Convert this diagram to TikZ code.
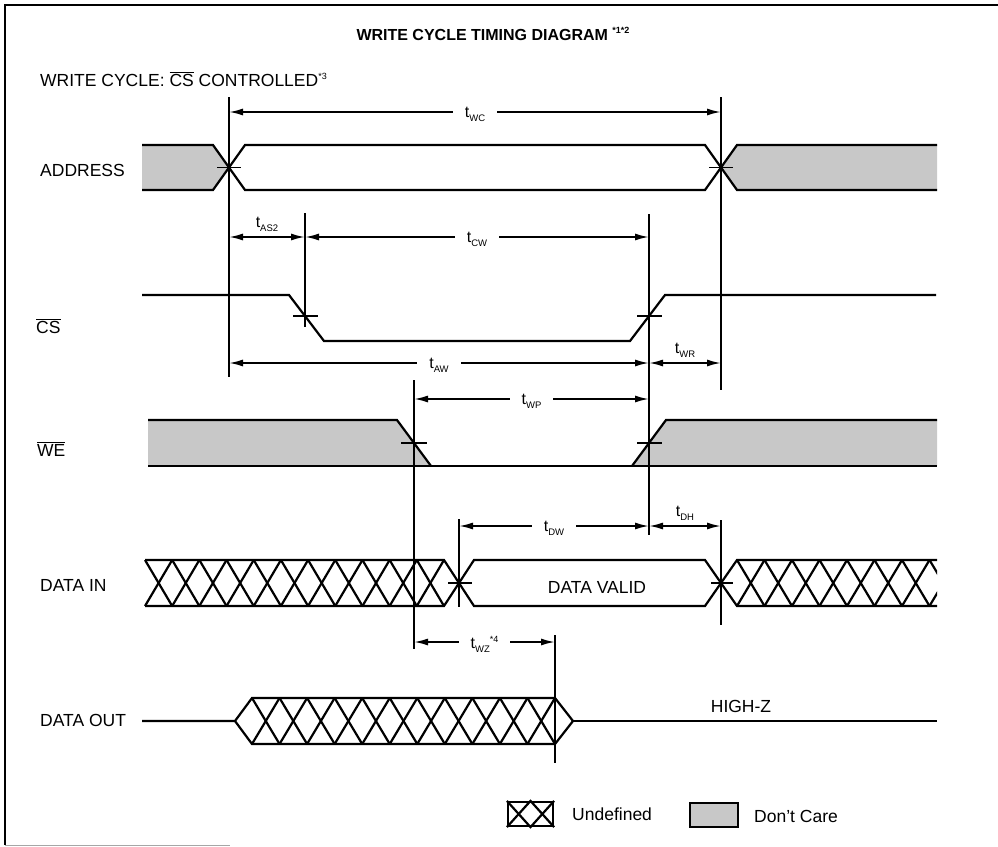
\documentclass[tikz,border=0pt]{standalone}
\usepackage{fontspec}
\setmainfont{Liberation Sans}
\usetikzlibrary{arrows.meta}
\definecolor{DCfill}{RGB}{200,200,200}
\newcommand{\tsub}[1]{t\raisebox{-0.45ex}{\fontsize{9.5}{10}\selectfont #1}}
\newcommand{\fnote}[1]{\raisebox{0.75ex}{\fontsize{9}{10}\selectfont #1}}

\begin{document}
\begin{tikzpicture}[x=1pt,y=-1pt,line join=miter,
  sig/.style={line width=2.2pt},
  vline/.style={line width=1.8pt},
  tickln/.style={line width=1.8pt},
  dim/.style={line width=1.8pt,{Latex[length=14pt,width=7pt]}-{Latex[length=14pt,width=7pt]}},
  lbl/.style={font=\fontsize{17.5}{20}\selectfont,anchor=base west,inner sep=0pt},
  txt/.style={font=\fontsize{17.5}{20}\selectfont,anchor=base,inner sep=0pt},
  tlbl/.style={font=\fontsize{16}{17}\selectfont,fill=white,inner xsep=12pt,inner ysep=2pt,yshift=-2pt},
  tlblup/.style={font=\fontsize{16}{17}\selectfont,inner sep=1pt}]
\path[use as bounding box] (0,0) rectangle (998,846);
% frame
\draw[line width=1.6pt] (998,5) -- (5,5) -- (5,845);
\draw[line width=1pt,black!35] (5,845) -- (230,845);

% headings and signal names
\node[font=\bfseries\fontsize{16}{18}\selectfont,anchor=base] (title) at (493,40) {WRITE CYCLE TIMING DIAGRAM \fnote{*1*2}};
\node[lbl] (subtitle) at (40,86) {WRITE CYCLE: $\overline{\mbox{CS}}$ CONTROLLED\fnote{*3}};
\node[lbl] (laddr) at (40,176) {ADDRESS};
\node[lbl] (lcs) at (36,333) {$\overline{\mbox{CS}}$};
\node[lbl] (lwe) at (37,456) {$\overline{\mbox{WE}}$};
\node[lbl] (ldin) at (40,591) {DATA IN};
\node[lbl] (ldout) at (40,726) {DATA OUT};

% don't care areas
\fill[DCfill] (142,145) -- (213,145) -- (229,167.5) -- (213,190) -- (142,190) -- cycle;
\fill[DCfill] (721,167.5) -- (737,145) -- (937,145) -- (937,190) -- (737,190) -- cycle;
\fill[DCfill] (148,420) -- (397,420) -- (431,466) -- (148,466) -- cycle;
\fill[DCfill] (632,466) -- (666,420) -- (937,420) -- (937,466) -- cycle;

% ADDRESS
\draw[sig] (142,145) -- (213,145) -- (245,190) -- (705,190) -- (737,145) -- (937,145);
\draw[sig] (142,190) -- (213,190) -- (245,145) -- (705,145) -- (737,190) -- (937,190);
\draw[tickln] (217,167.5) -- (241,167.5);
\draw[tickln] (709,167.5) -- (733,167.5);

% CS
\draw[sig] (142,295) -- (289,295) -- (324,341) -- (630,341) -- (665,295) -- (936,295);
\draw[tickln] (293,316) -- (318,316);
\draw[tickln] (637,316) -- (662,316);

% WE
\draw[sig] (148,420) -- (397,420) -- (431,466);
\draw[sig] (148,466) -- (937,466);
\draw[sig] (632,466) -- (666,420) -- (937,420);
\draw[tickln] (401,443) -- (427,443);
\draw[tickln] (637,443) -- (662,443);

% DATA IN
\foreach \i in {0,...,10} {
  \draw[sig] ({145+27.18*\i},560) -- ({145+27.18*(\i+1)},606);
  \draw[sig] ({145+27.18*\i},606) -- ({145+27.18*(\i+1)},560);
}
\begin{scope}
  \clip (737,555) rectangle (937,611);
  \foreach \i in {0,...,7} {
    \draw[sig] ({737+27.5*\i},560) -- ({737+27.5*(\i+1)},606);
    \draw[sig] ({737+27.5*\i},606) -- ({737+27.5*(\i+1)},560);
  }
\end{scope}
\draw[sig] (145,560) -- (444,560) -- (474,606) -- (705,606) -- (737,560) -- (937,560);
\draw[sig] (145,606) -- (444,606) -- (474,560) -- (705,560) -- (737,606) -- (937,606);
\draw[tickln] (448,583) -- (472,583);
\draw[tickln] (711,583) -- (733,583);
\node[txt] (valid) at (597,593) {DATA VALID};

% DATA OUT
\foreach \i in {0,...,10} {
  \draw[sig] ({252+27.545*\i},698) -- ({252+27.545*(\i+1)},744);
  \draw[sig] ({252+27.545*\i},744) -- ({252+27.545*(\i+1)},698);
}
\draw[sig] (142,721) -- (235,721) -- (252,698) -- (555,698) -- (573,721) -- (555,744) -- (252,744) -- (235,721);
\draw[sig] (573,721) -- (937,721);
\node[txt] (highz) at (741,712) {HIGH-Z};

% timing lines
\draw[vline] (229,97) -- (229,377);
\draw[vline] (721,97) -- (721,390);
\draw[vline] (305,213) -- (305,327);
\draw[vline] (649,214) -- (649,535);
\draw[vline] (414,380) -- (414,649);
\draw[vline] (459,519) -- (459,607);
\draw[vline] (721,520) -- (721,625);
\draw[vline] (555,635) -- (555,763);

% timing parameters
\coordinate (wc1) at (229,112);
\coordinate (wc2) at (721,112);
\coordinate (as1) at (229,237);
\coordinate (as2) at (305,237);
\coordinate (cw2) at (649,237);
\coordinate (aw1) at (229,363);
\coordinate (aw2) at (649,363);
\coordinate (wr2) at (721,363);
\coordinate (wp1) at (414,399);
\coordinate (wp2) at (649,399);
\coordinate (dw1) at (459,526);
\coordinate (dw2) at (649,526);
\coordinate (dh2) at (721,526);
\coordinate (wz1) at (414,642);
\coordinate (wz2) at (555,642);
\draw[dim] (wc1) -- node[tlbl] (twc) {\tsub{WC}} (wc2);
\draw[dim] (as1) -- node[tlblup,above=4pt] (tas2) {\tsub{AS2}} (as2);
\draw[dim] (as2) -- node[tlbl] (tcw) {\tsub{CW}} (cw2);
\draw[dim] (aw1) -- node[tlbl] (taw) {\tsub{AW}} (aw2);
\draw[dim] (aw2) -- node[tlblup,above=4pt] (twr) {\tsub{WR}} (wr2);
\draw[dim] (wp1) -- node[tlbl] (twp) {\tsub{WP}} (wp2);
\draw[dim] (dw1) -- node[tlbl] (tdw) {\tsub{DW}} (dw2);
\draw[dim] (dw2) -- node[tlblup,above=4pt] (tdh) {\tsub{DH}} (dh2);
\draw[dim] (wz1) -- node[tlbl] (twz) {\tsub{WZ}\fnote{*4}} (wz2);

% legend
\node[draw,line width=2.2pt,minimum width=45pt,minimum height=24pt,inner sep=0pt] (undefbox) at (530.5,814) {};
\draw[sig] (undefbox.north west) -- (undefbox.south) -- (undefbox.north east);
\draw[sig] (undefbox.south west) -- (undefbox.north) -- (undefbox.south east);
\node[lbl] (lundef) at (572,820) {Undefined};
\node[draw,line width=2.2pt,fill=DCfill,minimum width=48pt,minimum height=24pt,inner sep=0pt] (dcbox) at (714,815) {};
\node[lbl] (ldc) at (754,822) {Don't Care};
\end{tikzpicture}
\end{document}
